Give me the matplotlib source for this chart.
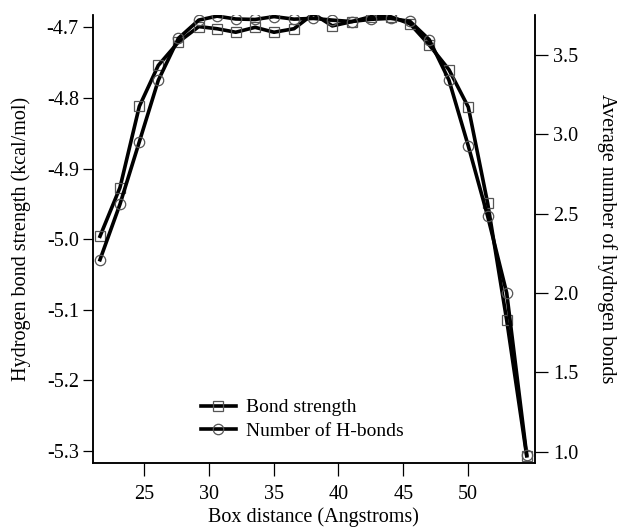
import matplotlib
matplotlib.use('Agg')
import matplotlib.pyplot as plt
from matplotlib.lines import Line2D

plt.rcParams['font.family'] = 'Liberation Serif'
plt.rcParams['axes.unicode_minus'] = False

# box distance (Angstroms)
box = [21.63, 23.17, 24.66, 26.12, 27.67, 29.24, 30.65, 32.09, 33.58, 35.04, 36.58, 38.07,
       39.53, 41.02, 42.50, 44.03, 45.52, 47.00, 48.52, 50.01, 51.50, 52.97, 54.51]
# hydrogen bond strength (kcal/mol)
strength = [-4.996, -4.927, -4.812, -4.754, -4.721, -4.699, -4.702, -4.707, -4.700, -4.707,
            -4.702, -4.681, -4.698, -4.692, -4.685, -4.685, -4.695, -4.725, -4.760, -4.813,
            -4.949, -5.115, -5.307]
# average number of hydrogen bonds
nbonds = [2.21, 2.56, 2.953, 3.34, 3.605, 3.72, 3.745, 3.727, 3.724, 3.742, 3.726, 3.731,
          3.720, 3.711, 3.725, 3.731, 3.712, 3.597, 3.342, 2.927, 2.485, 2.0, 0.98]

left_ticks = [-4.7, -4.8, -4.9, -5.0, -5.1, -5.2, -5.3]
right_ticks = [1.0, 1.5, 2.0, 2.5, 3.0, 3.5]
x_ticks = [25, 30, 35, 40, 45, 50]

fs = 14.5

fig = plt.figure(figsize=(6.19, 5.29), dpi=100)
ax = fig.add_axes([0.1498, 0.1253, 0.7145, 0.8463])
ax2 = ax.twinx()

mk = dict(markersize=7.5, markerfacecolor='none', markeredgecolor='#555555',
          markeredgewidth=0.9)
ax.plot(box, strength, color='black', lw=2.6, marker='s', **mk)
ax2.plot(box, nbonds, color='black', lw=2.6, marker='o', **mk)

ax.set_xlim(21.07, 55.15)
ax.set_ylim(-5.3167, -4.6826)
ax2.set_ylim(0.931, 3.752)

for a in (ax, ax2):
    a.spines['top'].set_visible(False)
    for s in a.spines.values():
        s.set_linewidth(1.1)

ax.set_xticks(x_ticks)
ax.set_yticks(left_ticks)
ax.set_yticklabels(['%.1f' % v for v in left_ticks])
ax2.set_yticks(right_ticks)
ax.tick_params(axis='x', direction='out', length=9, width=0.9, pad=7, labelsize=fs)
ax.tick_params(axis='y', direction='out', length=7, width=0.9, pad=3, labelsize=fs)
ax2.tick_params(axis='y', direction='out', length=9, width=0.9, pad=4, labelsize=fs)

ax.set_xlabel('Box distance (Angstroms)', fontsize=fs, labelpad=2.5)
ax.set_ylabel('Hydrogen bond strength (kcal/mol)', fontsize=fs, labelpad=11)
ax2.set_ylabel('Average number of hydrogen bonds', fontsize=fs, rotation=-90, labelpad=28)

handles = [Line2D([], [], color='black', lw=2.6, marker='s', **mk),
           Line2D([], [], color='black', lw=2.6, marker='o', **mk)]
ax.legend(handles, ['Bond strength', 'Number of H-bonds'], loc='lower left',
          bbox_to_anchor=(0.205, 0.012), frameon=False, fontsize=14, handlelength=1.8,
          handletextpad=0.5, labelspacing=0.3)

fig.savefig('out.png', dpi=100)
